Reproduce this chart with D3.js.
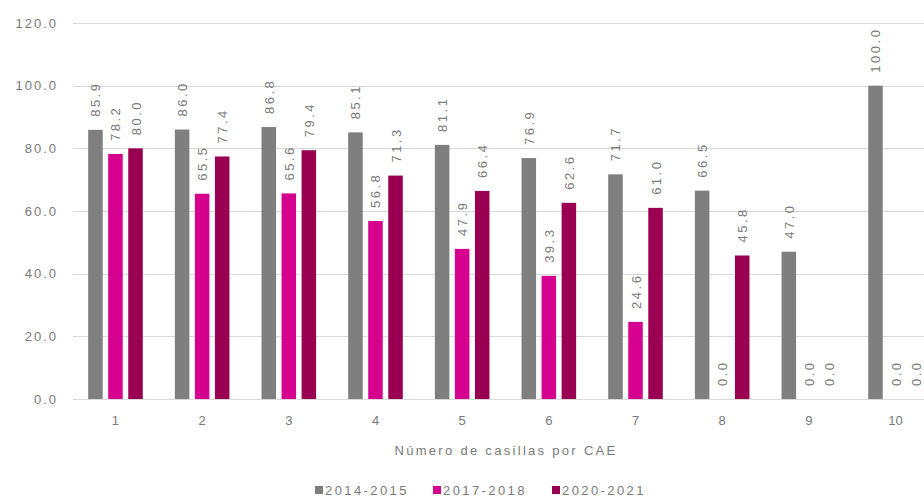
<!DOCTYPE html>
<html><head><meta charset="utf-8">
<script src="https://cdn.jsdelivr.net/npm/d3@7"></script>
<style>body{margin:0;background:#fff;} text{font-family:"Liberation Sans",Arial,sans-serif;}</style>
</head><body><svg id="c" width="924" height="500"></svg>
<script>
const categories = ["1","2","3","4","5","6","7","8","9","10"];
const seriesNames = ["2014-2015","2017-2018","2020-2021"];
const s2014 = [85.9, 86.0, 86.8, 85.1, 81.1, 76.9, 71.7, 66.5, 47.0, 100.0];
const s2017 = [78.2, 65.5, 65.6, 56.8, 47.9, 39.3, 24.6, 0.0, 0.0, 0.0];
const s2020 = [80.0, 77.4, 79.4, 71.3, 66.4, 62.6, 61.0, 45.8, 0.0, 0.0];
const yTicks = [0, 20, 40, 60, 80, 100, 120];
const colors = ["#7f7f7f", "#d6008f", "#990052"];
const xTitle = "Número de casillas por CAE";

const series = [s2014, s2017, s2020];
const svg = d3.select("#c");
const y = d3.scaleLinear().domain([0, 120]).range([399, 23]);
const x0 = d3.scaleBand().domain(categories).range([73, 938]).paddingInner(0.37).paddingOuter(0.175);
const x1 = d3.scaleBand().domain(seriesNames).range([0, x0.bandwidth()]).paddingInner(0.275);
const txt = "#7a7a7a";

// gridlines
svg.append("g").selectAll("line").data(yTicks).join("line")
  .attr("x1", 73).attr("x2", 924)
  .attr("y1", d => Math.round(y(d)) + 0.5).attr("y2", d => Math.round(y(d)) + 0.5)
  .attr("stroke", "#d9d9d9").attr("stroke-width", 1);

// y axis labels
const yAxis = d3.axisLeft(y).tickValues(yTicks).tickFormat(d3.format(".1f")).tickSize(0).tickPadding(0);
const yg = svg.append("g").attr("transform", "translate(58,0)").call(yAxis);
yg.select(".domain").remove();
yg.selectAll("text").attr("fill", txt).style("font-size", "13px").style("letter-spacing", "2px")
  .attr("font-family", null);

// bars
const groups = svg.append("g").selectAll("g").data(categories).join("g")
  .attr("transform", d => `translate(${x0(d)},0)`);
groups.selectAll("rect").data((d, i) => series.map((s, k) => ({k, v: s[i]}))).join("rect")
  .attr("x", d => x1(seriesNames[d.k]))
  .attr("width", x1.bandwidth())
  .attr("y", d => y(d.v))
  .attr("height", d => y(0) - y(d.v))
  .attr("fill", d => colors[d.k]);

// value labels
groups.selectAll("text").data((d, i) => series.map((s, k) => ({k, v: s[i]}))).join("text")
  .attr("transform", d => `translate(${x1(seriesNames[d.k]) + x1.bandwidth()/2 + 5},${y(d.v) - 13}) rotate(-90)`)
  .attr("text-anchor", "start")
  .attr("fill", txt).style("font-size", "13px").style("letter-spacing", "2.5px")
  .text(d => d3.format(".1f")(d.v));

// x axis labels
const xAxis = d3.axisBottom(x0).tickSize(0).tickPadding(0);
const xg = svg.append("g").attr("transform", "translate(0,425)").call(xAxis);
xg.select(".domain").remove();
xg.selectAll("text").attr("fill", txt).style("font-size", "13px").attr("dy", 0).attr("font-family", null);

svg.append("text").attr("x", 506).attr("y", 455).attr("text-anchor", "middle")
  .attr("fill", txt).style("font-size", "13px").style("letter-spacing", "2.3px").text(xTitle);

// legend
const legendX = [315, 433, 552];
const lg = svg.append("g").selectAll("g").data(seriesNames).join("g")
  .attr("transform", (d, i) => `translate(${legendX[i]},490)`);
lg.append("rect").attr("x", 0).attr("y", -4).attr("width", 8).attr("height", 8).attr("fill", (d, i) => colors[i]);
lg.append("text").attr("x", 10).attr("y", 5).attr("fill", txt).style("font-size", "13px").style("letter-spacing", "2.4px").text(d => d);
</script></body></html>
